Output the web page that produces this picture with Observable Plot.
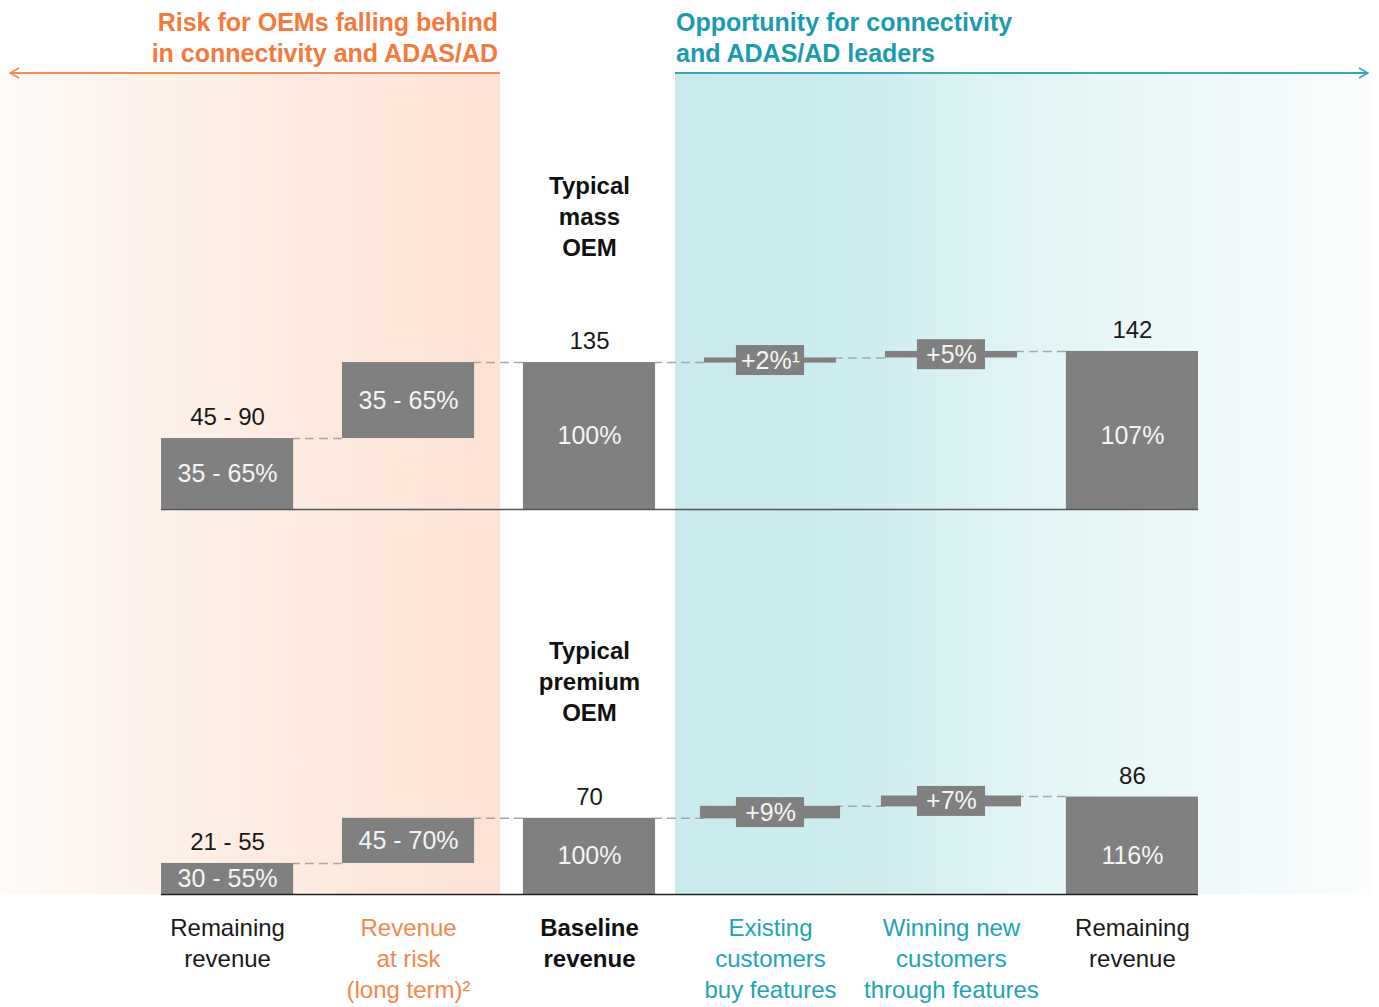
<!DOCTYPE html>
<html><head><meta charset="utf-8">
<script src="https://cdn.jsdelivr.net/npm/d3@7"></script>
<script src="https://cdn.jsdelivr.net/npm/@observablehq/plot@0.6"></script>
<style>
body{margin:0;background:#fff;font-family:"Liberation Sans",Arial,sans-serif;}
#wrap{position:relative;width:1379px;height:1007px;overflow:hidden;background:#fff;}
.bg{position:absolute;top:74px;height:820px;z-index:0;}
#bgL{left:0;width:500px;background:linear-gradient(to right,#fffbf8 0%,#fdf0e8 35%,#fde8dd 70%,#fde2d5 100%);}
#bgR{left:675px;width:697px;background:linear-gradient(to right,#c9ebed 0%,#cdedef 27%,#d9f1f3 40%,#e3f5f6 52%,#edf8f9 75%,#fcfefe 100%);}
.hdr{position:absolute;top:7px;font-size:25px;line-height:31px;font-weight:bold;z-index:2;white-space:nowrap;}
#hL{right:881px;text-align:right;color:#f27a3a;}
#hR{left:676px;color:#1a9cae;}
.plot{position:absolute;left:0;z-index:1;}
#arrows{position:absolute;left:0;top:0;z-index:2;}
</style>
</head><body>
<div id="wrap">
  <div class="bg" id="bgL"></div>
  <div class="bg" id="bgR"></div>
  <div class="hdr" id="hL">Risk for OEMs falling behind<br>in connectivity and ADAS/AD</div>
  <div class="hdr" id="hR">Opportunity for connectivity<br>and ADAS/AD leaders</div>
  <svg id="arrows" width="1379" height="90">
    <line x1="10" y1="73" x2="500" y2="73" stroke="#f28d58" stroke-width="2"/>
    <polyline points="19,68 10,73 19,78" fill="none" stroke="#f28d58" stroke-width="1.5"/>
    <line x1="675" y1="73" x2="1368" y2="73" stroke="#36a8b8" stroke-width="2"/>
    <polyline points="1359,68 1368,73 1359,78" fill="none" stroke="#36a8b8" stroke-width="1.5"/>
  </svg>
  <div class="plot" id="pA" style="top:140px"></div>
  <div class="plot" id="pB" style="top:520px"></div>
</div>
<script>
// ---- data ----
const categories = ["remainingNow", "atRisk", "baseline", "existing", "winning", "remainingFuture"];
const categoryLabels = ["Remaining\nrevenue", "Revenue\nat risk\n(long term)²", "Baseline\nrevenue", "Existing\ncustomers\nbuy features", "Winning new\ncustomers\nthrough features", "Remaining\nrevenue"];
const categoryColors = ["#1a1a1a", "#f5874a", "#111111", "#22a3b4", "#22a3b4", "#1a1a1a"];
const categoryBold = [false, false, true, false, false, false];
const barKinds = ["full", "full", "full", "thin", "thin", "full"];

const massTitle = "Typical\nmass\nOEM";
const massBottoms = [0, 65.2, 0, 134.5, 139.2, 0];
const massTops = [65.2, 135, 135, 139.2, 145.2, 145.2];
const massInside = ["35 - 65%", "35 - 65%", "100%", "+2%¹", "+5%", "107%"];
const massAbove = ["45 - 90", "", "135", "", "", "142"];
const massConnectors = [65.2, 135, 135, 139.2, 145.2];

const premiumTitle = "Typical\npremium\nOEM";
const premiumBottoms = [0, 28.5, 0, 69.5, 80.5, 0];
const premiumTops = [28.5, 70, 70, 81, 90.5, 89.5];
const premiumInside = ["30 - 55%", "45 - 70%", "100%", "+9%", "+7%", "116%"];
const premiumAbove = ["21 - 55", "", "70", "", "", "86"];
const premiumConnectors = [28.5, 70, 70, 81, 90];

// ---- drawing ----
function panel(o) {
  const bars = categories.map((c, i) => ({cat: c, y1: o.bottoms[i], y2: o.tops[i], kind: barKinds[i], inside: o.inside[i], above: o.above[i]}));
  const baseTop = o.tops[2];
  bars.forEach((d, i) => d.mid = i === 5 ? baseTop / 2 : (d.y1 + d.y2) / 2);
  const links = o.connectors.map((y, i) => ({from: categories[i], to: categories[i + 1], y}));
  const thin = bars.filter(d => d.kind === "thin");
  const marks = [
    Plot.ruleY(links, {x1: "to", x2: "from", y: "y", stroke: "#a8a8a8", strokeWidth: 1.5, strokeDasharray: "9,5"}),
    Plot.barY(bars.filter(d => d.kind === "full"), {x: "cat", y1: "y1", y2: "y2", fill: "#808080"}),
    Plot.barY(thin, {x: "cat", y1: "y1", y2: "y2", fill: "#808080", insetLeft: o.thinInset, insetRight: o.thinInset}),
    Plot.barY(thin, {x: "cat", y1: "mid", y2: "mid", fill: "#808080", insetLeft: 32, insetRight: 32, insetTop: -15, insetBottom: -15}),
    Plot.ruleY([0], {stroke: o.baseColor, strokeWidth: 1.5}),
    Plot.text(bars, {x: "cat", y: "mid", text: "inside", fill: "#f4f4f4", fontSize: 25}),
    Plot.text(bars.filter(d => d.above), {x: "cat", y: "y2", text: "above", dy: -21, fill: "#1a1a1a", fontSize: 24}),
    Plot.text([o.title], {x: () => categories[2], text: d => d, frameAnchor: "top", lineAnchor: "top", dy: o.titleDy, fontSize: 24, fontWeight: "bold", lineHeight: 1.29, fill: "#111"})
  ];
  if (o.withLabels) {
    const rows = categories.map((c, i) => ({cat: c, label: categoryLabels[i], color: categoryColors[i], bold: categoryBold[i]}));
    marks.push(Plot.text(rows.filter(d => !d.bold), {x: "cat", text: "label", fill: "color", frameAnchor: "bottom", lineAnchor: "top", dy: 20, fontSize: 24, lineHeight: 1.29}));
    marks.push(Plot.text(rows.filter(d => d.bold), {x: "cat", text: "label", fill: "color", frameAnchor: "bottom", lineAnchor: "top", dy: 20, fontSize: 24, fontWeight: "bold", lineHeight: 1.29}));
  }
  return Plot.plot({
    width: 1379,
    height: o.height,
    marginLeft: 161,
    marginRight: 181,
    marginTop: 0,
    marginBottom: o.marginBottom,
    style: {background: "transparent", overflow: "visible", fontFamily: "Liberation Sans, Arial, sans-serif"},
    x: {type: "band", domain: categories, paddingInner: 0.27, paddingOuter: 0, round: false, axis: null},
    y: {domain: [0, o.ymax], axis: null},
    color: {type: "identity"},
    marks
  });
}

document.getElementById("pA").appendChild(panel({
  bottoms: massBottoms, tops: massTops, inside: massInside, above: massAbove, connectors: massConnectors,
  title: massTitle, titleDy: 32, height: 380, marginBottom: 11, ymax: 339.0, withLabels: false, thinInset: 0, baseColor: "#555"
}));
document.getElementById("pB").appendChild(panel({
  bottoms: premiumBottoms, tops: premiumTops, inside: premiumInside, above: premiumAbove, connectors: premiumConnectors,
  title: premiumTitle, titleDy: 117, height: 487, marginBottom: 113, ymax: 343.6, withLabels: true, thinInset: -4, baseColor: "#222"
}));
</script>
</body></html>
